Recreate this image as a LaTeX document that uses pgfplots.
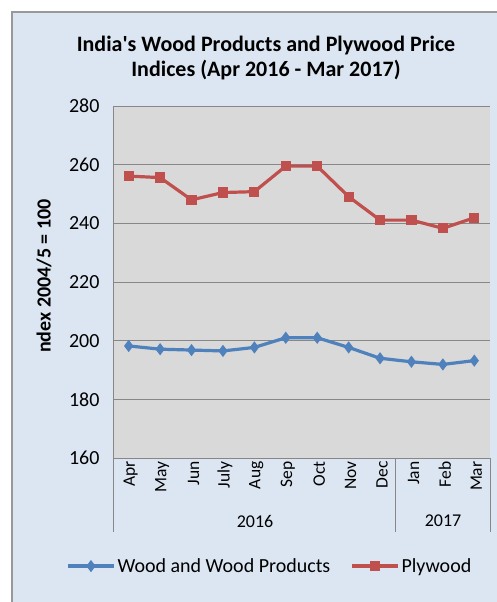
\documentclass[border=0pt]{standalone}
\usepackage{pgfplots}
\pgfplotsset{compat=1.18}
\usepackage{fontspec}
\setmainfont{Carlito}
\definecolor{bgblue}{HTML}{DCE6F2}
\definecolor{plotgray}{HTML}{D9D9D9}
\definecolor{gridgray}{HTML}{878787}
\definecolor{woodblue}{HTML}{4F81BD}
\definecolor{plyred}{HTML}{C0504D}
\begin{document}
\begin{tikzpicture}[x=1pt,y=1pt]
\path[use as bounding box] (0,0) rectangle (496,-602);
\fill[white] (0,0) rectangle (496,-602);
\filldraw[fill=bgblue,draw=gray!80,line width=1.5pt] (12,-12) rectangle (520,-640);
\node[font=\bfseries\fontsize{22}{24.5}\selectfont,align=center] at (266,-58) {India\textquotesingle s Wood Products and Plywood Price\\Indices (Apr 2016 - Mar 2017)};
\node[font=\bfseries\fontsize{20}{22}\selectfont,rotate=90] at (44,-276) {ndex 2004/5 = 100};
\begin{axis}[
  at={(113pt,-458pt)}, anchor=south west,
  scale only axis, width=377pt, height=352pt,
  xmin=-0.5, xmax=11.5, ymin=160, ymax=280,
  ytick={160,180,...,280},
  xtick={0,...,11},
  xticklabels={Apr,May,Jun,July,Aug,Sep,Oct,Nov,Dec,Jan,Feb,Mar},
  xticklabel style={rotate=90, anchor=east, font=\fontsize{17.5}{18}\selectfont, yshift=-2pt},
  yticklabel style={font=\fontsize{20}{22}\selectfont, xshift=-10pt},
  /pgf/number format/assume math mode=true,
  major tick length=0pt,
  ymajorgrids, grid style={gridgray, line width=1pt},
  axis background/.style={fill=plotgray},
  axis x line*=bottom, axis y line*=left,
  axis line style={gridgray, line width=1pt, -},
  legend style={at={(0.416,-0.307)}, anchor=center, draw=none, fill=none,
    legend columns=2, font=\fontsize{20}{22}\selectfont,
    /tikz/every even column/.append style={column sep=18pt}},
  legend image code/.code={\draw[mark repeat=2,mark phase=2,#1] plot coordinates {(0pt,0pt)(23pt,0pt)(46pt,0pt)};},
]
\addplot[woodblue, line width=3.2pt, mark=diamond*, mark size=3.5pt, mark options={solid}] coordinates {
(0,198.2)(1,197.1)(2,196.8)(3,196.5)(4,197.7)(5,201.0)(6,201.0)(7,197.7)(8,194.0)(9,192.8)(10,191.9)(11,193.2)};
\addlegendentry{Wood and Wood Products}
\addplot[plyred, line width=3.2pt, mark=square*, mark size=3.5pt, mark options={solid}] coordinates {
(0,256.1)(1,255.6)(2,248.0)(3,250.5)(4,250.8)(5,259.5)(6,259.5)(7,249.1)(8,241.1)(9,241.1)(10,238.3)(11,241.9)};
\addlegendentry{Plywood}
\end{axis}
\draw[gridgray, line width=1pt] (113,-458) -- (113,-532);
\draw[gridgray, line width=1pt] (395.8,-458) -- (395.8,-532);
\draw[gridgray, line width=1pt] (490,-458) -- (490,-532);
\node[font=\fontsize{18}{20}\selectfont] at (255,-521) {2016};
\node[font=\fontsize{18}{20}\selectfont] at (443,-521) {2017};
\end{tikzpicture}
\end{document}
